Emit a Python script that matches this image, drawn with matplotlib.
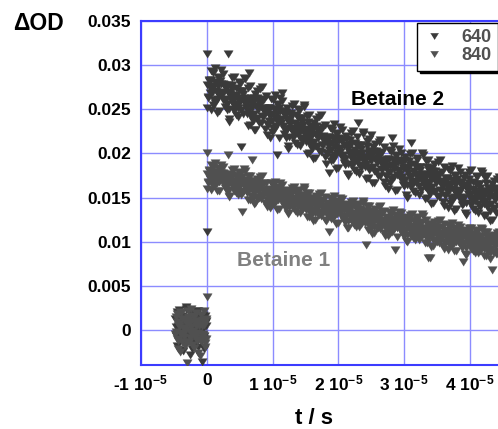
import numpy as np
import matplotlib
matplotlib.use("Agg")
import matplotlib.pyplot as plt

# ---------------- data (mOD vs microseconds) ----------------
# three interleaved sample sets per trace, step 0.2 us each
dt_us = 0.2
post_t0_even = 0.0
post_t0_odd = 0.1
post_t0_mid = 0.05
pre_t0_even = -4.8
pre_t0_odd = -4.7
pre_t0_mid = -4.75

betaine2_post_even = [
    31.3, 26.4, 28.3, 24.9, 27.5, 29.1, 25.7, 28.0, 24.6, 28.6, 27.0, 29.4, 26.1, 27.8, 25.3,
    24.9, 31.3, 23.6, 27.0, 27.7, 25.6, 28.7, 24.3, 26.3, 25.2, 27.9, 20.7, 27.1, 25.8, 28.4,
    25.6, 23.1, 29.1, 27.6, 24.4, 23.7, 26.3, 22.7, 27.1, 25.2, 23.5, 26.0, 27.5, 24.1, 24.7,
    26.5, 23.3, 25.2, 21.8, 24.4, 26.0, 22.6, 24.9, 19.8, 25.5, 23.9, 26.3, 26.8, 24.7, 22.2,
    21.8, 25.1, 20.5, 23.9, 24.6, 22.5, 25.6, 21.2, 23.2, 22.1, 24.8, 20.8, 24.0, 22.7, 25.3,
    22.4, 19.9, 23.6, 24.4, 21.2, 20.5, 23.1, 19.5, 23.9, 22.0, 20.3, 22.8, 24.3, 20.9, 21.5,
    23.2, 20.0, 21.9, 17.8, 21.1, 22.7, 19.3, 21.6, 18.2, 22.2, 20.6, 23.0, 19.7, 21.4, 18.9,
    18.7, 22.0, 17.4, 20.8, 21.5, 19.4, 22.5, 18.1, 20.1, 19.0, 23.5, 17.7, 20.9, 19.6, 22.2,
    19.6, 17.1, 20.8, 21.6, 18.4, 22.1, 20.3, 16.7, 21.1, 19.2, 17.5, 20.0, 21.5, 18.1, 18.7,
    20.7, 17.5, 19.4, 16.0, 18.6, 20.2, 21.8, 19.1, 15.7, 19.7, 18.1, 20.5, 17.2, 18.9, 16.4,
    16.3, 19.6, 15.0, 18.4, 19.1, 21.2, 20.1, 15.7, 17.7, 16.6, 19.3, 15.3, 18.5, 17.2, 19.8,
    17.3, 14.8, 18.5, 19.3, 16.1, 15.4, 18.0, 14.4, 18.8, 16.9, 15.2, 17.7, 19.2, 15.8, 16.4,
    18.5, 15.3, 17.2, 13.8, 16.4, 18.0, 14.6, 16.9, 13.5, 17.5, 15.9, 18.3, 15.0, 16.7, 14.2,
    14.3, 17.6, 13.0, 16.4, 17.1, 15.0, 18.1, 13.7, 15.7, 14.6, 17.3, 13.3, 16.5, 15.2, 17.8,
    15.4, 12.9, 16.6, 17.4, 14.2, 13.5, 16.1, 12.5, 16.9, 15.0, 13.3, 15.8, 17.3, 13.9, 14.5,
]
betaine2_post_odd = [
    25.2, 28.2, 26.8, 29.3, 25.5, 27.6, 29.7, 26.2, 28.7, 24.8, 27.9, 26.6, 29.0, 25.9, 27.4,
    27.8, 23.9, 26.7, 26.0, 28.5, 24.8, 25.4, 27.4, 24.1, 28.1, 25.8, 27.1, 24.5, 28.6, 25.2,
    24.5, 27.4, 23.2, 26.3, 25.1, 22.6, 26.7, 25.4, 23.9, 25.9, 27.3, 23.4, 24.9, 26.2, 22.8,
    22.1, 25.1, 23.7, 26.2, 22.4, 24.5, 26.6, 23.1, 25.6, 21.7, 24.8, 23.5, 25.9, 22.8, 24.3,
    24.7, 20.8, 23.6, 22.9, 25.4, 21.7, 22.3, 24.3, 21.0, 25.0, 22.7, 24.0, 21.4, 25.5, 22.1,
    21.3, 24.2, 20.0, 23.1, 21.9, 19.4, 23.5, 22.2, 20.7, 22.7, 24.1, 20.2, 21.7, 23.0, 19.6,
    18.8, 21.8, 20.4, 22.9, 19.1, 21.2, 23.3, 19.8, 22.3, 18.4, 21.5, 20.2, 22.6, 19.5, 21.0,
    21.6, 17.7, 20.5, 19.8, 22.3, 18.6, 19.2, 21.2, 17.9, 21.9, 19.6, 20.9, 18.3, 22.4, 19.0,
    18.5, 21.4, 17.2, 20.3, 19.1, 16.6, 20.7, 19.4, 17.9, 19.9, 21.3, 17.4, 18.9, 20.2, 16.8,
    16.3, 19.3, 17.9, 20.4, 16.6, 18.7, 20.8, 17.3, 19.8, 15.9, 19.0, 17.7, 20.1, 17.0, 18.5,
    19.2, 15.3, 18.1, 17.4, 19.9, 16.2, 16.8, 18.8, 15.5, 19.5, 17.2, 18.5, 15.9, 20.0, 16.6,
    16.2, 19.1, 14.9, 18.0, 16.8, 14.3, 18.4, 17.1, 15.6, 17.6, 19.0, 15.1, 16.6, 17.9, 14.5,
    14.1, 17.1, 15.7, 18.2, 14.4, 16.5, 18.6, 15.1, 17.6, 13.7, 16.8, 15.5, 17.9, 14.8, 16.3,
    17.2, 13.3, 16.1, 15.4, 17.9, 14.2, 14.8, 16.8, 13.5, 17.5, 15.2, 16.5, 13.9, 18.0, 14.6,
    14.3, 17.2, 13.0, 16.1, 14.9, 12.4, 16.5, 15.2, 13.7, 15.7, 17.1, 13.2, 14.7, 16.0, 12.6,
]
betaine2_post_mid = [
    27.8, 26.3, 27.4, 28.3, 26.8, 26.0, 28.1, 27.1, 27.6, 26.5, 28.2, 26.9, 27.9, 26.2, 27.3,
    25.6, 26.9, 25.0, 26.4, 27.3, 25.9, 25.3, 26.6, 25.5, 27.1, 26.1, 24.9, 26.7, 26.3, 25.7,
    25.3, 24.8, 26.0, 24.1, 25.6, 25.8, 24.5, 24.0, 26.3, 24.9, 25.5, 25.9, 24.2, 25.2, 24.6,
    24.7, 23.2, 24.3, 25.2, 23.7, 22.9, 25.0, 24.0, 24.5, 23.4, 25.1, 23.8, 24.8, 23.1, 24.2,
    22.5, 23.8, 21.9, 23.3, 24.2, 22.8, 22.2, 23.5, 22.4, 24.0, 23.0, 21.8, 23.6, 23.2, 22.6,
    22.1, 21.6, 22.8, 20.9, 22.4, 22.6, 21.3, 20.8, 23.1, 21.7, 22.3, 22.7, 21.0, 22.0, 21.4,
    21.4, 19.9, 21.0, 21.9, 20.4, 19.6, 21.7, 20.7, 21.2, 20.1, 21.8, 20.5, 21.5, 19.8, 20.9,
    19.4, 20.7, 18.8, 20.2, 21.1, 19.7, 19.1, 20.4, 19.3, 20.9, 19.9, 18.7, 20.5, 20.1, 19.5,
    19.3, 18.8, 20.0, 18.1, 19.6, 19.8, 18.5, 18.0, 20.3, 18.9, 19.5, 19.9, 18.2, 19.2, 18.6,
    18.9, 17.4, 18.5, 19.4, 17.9, 17.1, 19.2, 18.2, 18.7, 17.6, 19.3, 18.0, 19.0, 17.3, 18.4,
    17.0, 18.3, 16.4, 17.8, 18.7, 17.3, 16.7, 18.0, 16.9, 18.5, 17.5, 16.3, 18.1, 17.7, 17.1,
    17.0, 16.5, 17.7, 15.8, 17.3, 17.5, 16.2, 15.7, 18.0, 16.6, 17.2, 17.6, 15.9, 16.9, 16.3,
    16.7, 15.2, 16.3, 17.2, 15.7, 14.9, 17.0, 16.0, 16.5, 15.4, 17.1, 15.8, 16.8, 15.1, 16.2,
    15.0, 16.3, 14.4, 15.8, 16.7, 15.3, 14.7, 16.0, 14.9, 16.5, 15.5, 14.3, 16.1, 15.7, 15.1,
    15.1, 14.6, 15.8, 13.9, 15.4, 15.6, 14.3, 13.8, 16.1, 14.7, 15.3, 15.7, 14.0, 15.0, 14.4,
]

betaine1_post_even = [
    20.0, 16.8, 18.0, 15.9, 17.5, 18.5, 16.4, 17.8, 15.7, 18.2, 17.2, 18.7, 16.6, 17.7, 16.1,
    15.8, 19.8, 15.1, 17.2, 17.6, 16.3, 18.2, 15.5, 16.7, 16.0, 17.7, 15.3, 13.4, 16.4, 18.0,
    16.2, 14.7, 16.9, 17.4, 19.3, 15.0, 16.7, 14.4, 17.1, 15.9, 14.9, 16.5, 17.4, 15.3, 15.6,
    16.7, 14.7, 15.9, 13.8, 15.4, 16.4, 14.3, 15.7, 13.6, 16.1, 15.1, 16.6, 14.5, 15.6, 14.0,
    13.8, 15.9, 13.1, 15.2, 15.6, 14.3, 16.2, 13.5, 14.7, 14.0, 15.7, 13.3, 15.2, 14.4, 16.0,
    14.3, 12.8, 15.0, 15.5, 13.6, 13.1, 14.8, 12.5, 15.2, 14.0, 13.0, 14.6, 15.5, 13.4, 13.7,
    15.1, 13.1, 14.3, 11.1, 13.8, 14.8, 12.7, 14.1, 12.0, 14.5, 13.5, 15.0, 12.9, 14.0, 12.4,
    12.2, 14.3, 11.5, 13.6, 14.0, 12.7, 14.6, 11.9, 13.1, 12.4, 14.1, 11.7, 13.6, 12.8, 14.4,
    12.8, 9.6, 13.5, 14.0, 12.1, 11.6, 13.3, 11.0, 13.7, 12.5, 11.5, 13.1, 14.0, 11.9, 12.2,
    13.5, 11.5, 12.7, 10.6, 12.2, 13.2, 11.1, 12.5, 9.1, 12.9, 11.9, 13.4, 11.3, 12.4, 10.8,
    10.7, 12.8, 10.0, 12.1, 12.5, 11.2, 13.1, 10.4, 11.6, 10.9, 12.6, 10.2, 12.1, 11.3, 12.9,
    11.3, 9.8, 12.0, 8.2, 10.6, 8.1, 11.8, 9.5, 12.2, 11.0, 10.0, 11.6, 12.5, 10.4, 10.7,
    12.0, 10.0, 11.2, 9.1, 10.7, 11.7, 9.6, 11.0, 8.9, 11.4, 10.4, 11.9, 9.8, 10.9, 9.3,
    7.7, 11.3, 8.5, 10.6, 11.0, 9.7, 11.6, 8.9, 10.1, 9.4, 11.1, 8.7, 10.6, 9.8, 11.4,
    9.9, 8.4, 10.6, 11.1, 9.2, 8.7, 10.4, 6.8, 10.8, 9.6, 8.6, 10.2, 11.1, 9.0, 9.3,
]
betaine1_post_odd = [
    16.0, 18.1, 17.1, 18.7, 16.3, 17.6, 18.9, 16.7, 18.3, 15.8, 17.8, 16.9, 18.5, 16.5, 17.4,
    17.7, 15.2, 17.0, 16.5, 18.1, 15.8, 16.2, 17.5, 15.3, 17.9, 16.4, 17.3, 15.6, 18.2, 16.0,
    15.5, 17.4, 14.7, 16.7, 15.9, 14.3, 16.9, 16.1, 15.1, 16.4, 17.3, 14.8, 15.8, 16.6, 14.4,
    13.9, 16.0, 15.0, 16.6, 14.2, 15.5, 16.8, 14.6, 16.2, 13.7, 15.7, 14.8, 16.4, 14.4, 15.3,
    15.7, 13.2, 15.0, 14.5, 16.1, 13.8, 14.2, 15.5, 13.3, 15.9, 14.4, 15.3, 13.6, 16.2, 14.0,
    13.6, 15.5, 12.8, 14.8, 14.0, 12.4, 15.0, 14.2, 13.2, 14.5, 15.4, 12.9, 13.9, 14.7, 12.5,
    12.3, 14.4, 13.4, 15.0, 12.6, 13.9, 15.2, 13.0, 14.6, 12.1, 14.1, 13.2, 14.8, 12.8, 13.7,
    14.1, 11.6, 13.4, 12.9, 14.5, 12.2, 12.6, 13.9, 11.7, 14.3, 12.8, 13.7, 12.0, 14.6, 12.4,
    12.1, 14.0, 11.3, 13.3, 12.5, 10.9, 13.5, 12.7, 11.7, 13.0, 13.9, 11.4, 12.4, 13.2, 11.0,
    10.7, 12.8, 11.8, 13.4, 11.0, 12.3, 13.6, 11.4, 13.0, 10.5, 12.5, 11.6, 13.2, 11.2, 12.1,
    12.6, 10.1, 11.9, 11.4, 13.0, 10.7, 11.1, 12.4, 10.2, 12.8, 11.3, 12.2, 10.5, 13.1, 10.9,
    10.6, 12.5, 9.8, 11.8, 11.0, 9.4, 12.0, 11.2, 10.2, 11.5, 12.4, 9.9, 10.9, 11.7, 9.5,
    9.2, 11.3, 10.3, 11.9, 9.5, 10.8, 12.1, 9.9, 11.5, 9.0, 11.0, 10.1, 11.7, 9.7, 10.6,
    11.1, 8.6, 10.4, 9.9, 11.5, 9.2, 9.6, 10.9, 8.7, 11.3, 9.8, 10.7, 9.0, 11.6, 9.4,
    9.2, 11.1, 8.4, 10.4, 9.6, 8.0, 10.6, 9.8, 8.8, 10.1, 11.0, 8.5, 9.5, 10.3, 8.1,
]
betaine1_post_mid = [
    17.7, 16.7, 17.4, 18.0, 17.0, 16.5, 17.9, 17.2, 17.6, 16.8, 18.1, 17.1, 17.8, 16.6, 17.3,
    16.3, 17.1, 15.9, 16.8, 17.4, 16.5, 16.1, 16.9, 16.2, 17.3, 16.6, 15.8, 17.0, 16.7, 16.4,
    16.0, 15.7, 16.5, 15.2, 16.2, 16.4, 15.5, 15.1, 16.7, 15.8, 16.1, 16.5, 15.3, 15.9, 15.6,
    15.6, 14.6, 15.3, 15.9, 14.9, 14.4, 15.8, 15.1, 15.5, 14.7, 16.0, 15.0, 15.7, 14.5, 15.2,
    14.3, 15.1, 13.9, 14.8, 15.4, 14.5, 14.1, 14.9, 14.2, 15.3, 14.6, 13.8, 15.0, 14.7, 14.4,
    14.1, 13.8, 14.6, 13.3, 14.3, 14.5, 13.6, 13.2, 14.8, 13.9, 14.2, 14.6, 13.4, 14.0, 13.7,
    14.0, 13.0, 13.7, 14.3, 13.3, 12.8, 14.2, 13.5, 13.9, 13.1, 14.4, 13.4, 14.1, 12.9, 13.6,
    12.7, 13.5, 12.3, 13.2, 13.8, 12.9, 12.5, 13.3, 12.6, 13.7, 13.0, 12.2, 13.4, 13.1, 12.8,
    12.6, 12.3, 13.1, 11.8, 12.8, 13.0, 12.1, 11.7, 13.3, 12.4, 12.7, 13.1, 11.9, 12.5, 12.2,
    12.4, 11.4, 12.1, 12.7, 11.7, 11.2, 12.6, 11.9, 12.3, 11.5, 12.8, 11.8, 12.5, 11.3, 12.0,
    11.2, 12.0, 10.8, 11.7, 12.3, 11.4, 11.0, 11.8, 11.1, 12.2, 11.5, 10.7, 11.9, 11.6, 11.3,
    11.1, 10.8, 11.6, 10.3, 11.3, 11.5, 10.6, 10.2, 11.8, 10.9, 11.2, 11.6, 10.4, 11.0, 10.7,
    10.9, 9.9, 10.6, 11.2, 10.2, 9.7, 11.1, 10.4, 10.8, 10.0, 11.3, 10.3, 11.0, 9.8, 10.5,
    9.7, 10.5, 9.3, 10.2, 10.8, 9.9, 9.5, 10.3, 9.6, 10.7, 10.0, 9.2, 10.4, 10.1, 9.8,
    9.7, 9.4, 10.2, 8.9, 9.9, 10.1, 9.2, 8.8, 10.4, 9.5, 9.8, 10.2, 9.0, 9.6, 9.3,
]

betaine2_pre_even = [1.2, -1.8, 0.4, 2.3, -0.9, 1.6, -2.4, 0.1, 2.6, -1.2, 0.9, -0.3, 1.9,
                     -2.1, 0.6, 1.4, -1.5, 2.2, -0.6, 0.3, -3.6, 1.7, -1.0, 0.8, 11.1]
betaine2_pre_odd = [-0.7, 2.0, -1.3, 0.9, -2.3, 1.4, 0.3, -1.6, 2.4, -0.4, 1.0, -2.8,
                    0.6, 1.8, -1.1, 0.2, 2.1, -1.9, 1.3, -0.2, 0.7, -2.2, 1.6, 0.4]
betaine2_pre_mid = [0.3, -0.8, 1.1, -0.2, 0.6, -1.3, 0.9, -0.5, 0.1, 1.4, -1.0, 0.4,
                    -0.1, 0.8, -1.5, 0.5, -0.6, 1.2, -0.3, 0.7, -1.1, 0.2, -0.7, 1.0]
betaine1_pre_even = [-0.5, 1.8, -2.2, 0.7, 2.0, -1.4, 0.2, -0.8, 1.3, -3.7, 1.5, -0.2, 2.4,
                     -1.7, -0.4, 0.9, 1.9, -2.6, 0.5, -1.1, 1.1, -0.7, 2.1, -1.9, 3.7]
betaine1_pre_odd = [1.5, -1.0, 0.5, -2.5, 1.9, -0.3, 1.1, -1.8, 0.0, 2.2, -1.4, 0.8,
                    -0.6, 1.6, -2.0, 0.4, -1.2, 1.0, -3.0, 1.7, -0.9, 0.6, -1.5, 1.2]
betaine1_pre_mid = [-0.2, 0.9, -1.2, 0.5, -0.6, 1.3, -0.4, 0.2, -1.4, 0.7, 1.1, -0.9,
                    0.3, -0.1, 1.5, -0.8, 0.6, -0.3, 1.0, -1.3, 0.4, -0.5, 0.8, -1.0]

series_labels = ["640", "840"]
xtick_values = [-1e-5, 0, 1e-5, 2e-5, 3e-5, 4e-5]
xtick_labels = ["-1 10$^{-5}$", "0", "1 10$^{-5}$", "2 10$^{-5}$", "3 10$^{-5}$", "4 10$^{-5}$"]
ytick_values = [0, 0.005, 0.01, 0.015, 0.02, 0.025, 0.03, 0.035]
ytick_labels = ["0", "0.005", "0.01", "0.015", "0.02", "0.025", "0.03", "0.035"]

# ---------------- build arrays ----------------
def times(n, t0):
    return (t0 + dt_us * np.arange(n)) * 1e-6

def trace(parts):
    t = np.concatenate([times(len(v), t0) for v, t0 in parts])
    y = np.concatenate([np.asarray(v, float) for v, _ in parts]) * 1e-3
    return t, y

b2_t, b2_y = trace([(betaine2_pre_even, pre_t0_even), (betaine2_pre_odd, pre_t0_odd),
                    (betaine2_pre_mid, pre_t0_mid),
                    (betaine2_post_even, post_t0_even), (betaine2_post_odd, post_t0_odd),
                    (betaine2_post_mid, post_t0_mid)])
b1_t, b1_y = trace([(betaine1_pre_even, pre_t0_even), (betaine1_pre_odd, pre_t0_odd),
                    (betaine1_pre_mid, pre_t0_mid),
                    (betaine1_post_even, post_t0_even), (betaine1_post_odd, post_t0_odd),
                    (betaine1_post_mid, post_t0_mid)])

# ---------------- style ----------------
plt.rcParams["font.family"] = ["Liberation Sans", "DejaVu Sans"]
plt.rcParams["font.weight"] = "bold"
plt.rcParams["mathtext.default"] = "regular"

W, H = 498, 429
fig = plt.figure(figsize=(W / 100, H / 100), dpi=100)
ax = fig.add_axes([141 / W, 64 / H, (503 - 141) / W, (365 - 21) / H])

tri_down = [(-1.0, 0.8), (1.0, 0.8), (0.0, -0.8)]
c2 = "#3a3a3a"
c1 = "#505050"
ms = 6.7
ax.plot(b2_t, b2_y, linestyle="none", marker=tri_down, ms=ms, color=c2, mec=c2, mew=0.3,
        label=series_labels[0], zorder=3)
ax.plot(b1_t, b1_y, linestyle="none", marker=tri_down, ms=ms, color=c1, mec=c1, mew=0.3,
        label=series_labels[1], zorder=3)

ax.set_xlim(-1e-5, 4.502e-5)
ax.set_ylim(-0.003964, 0.035)

ax.set_xticks(xtick_values)
ax.set_xticklabels(xtick_labels)
ax.set_yticks(ytick_values)
ax.set_yticklabels(ytick_labels)
ax.tick_params(axis="both", length=0, labelsize=12.5, colors="black")
ax.tick_params(axis="y", pad=7)
ax.tick_params(axis="x", pad=6)
for lab in ax.get_xticklabels() + ax.get_yticklabels():
    lab.set_fontweight("bold")

ax.grid(True, color="#8c8cff", linewidth=1.0, zorder=0)
ax.set_axisbelow(True)
for s in ["left", "top", "bottom"]:
    ax.spines[s].set_color("#3c3cff")
    ax.spines[s].set_linewidth(1.5)
ax.spines["right"].set_visible(False)

ax.text(2.9e-5, 0.0261, "Betaine 2", fontsize=15, fontweight="bold", color="black",
        ha="center", va="center", zorder=4)
ax.text(1.17e-5, 0.0079, "Betaine 1", fontsize=15, fontweight="bold", color="#808080",
        ha="center", va="center", zorder=4)

fig.text(38 / W, 1 - 24 / H, "ΔOD", fontsize=16.5, fontweight="bold", ha="center", va="center")
fig.text(314 / W, 1 - 424 / H, "t / s", fontsize=16, fontweight="bold", ha="center", va="baseline")

leg = ax.legend(loc="upper left", bbox_to_anchor=(417 / W, 1 - 23 / H), bbox_transform=fig.transFigure,
                borderaxespad=0, frameon=True, fancybox=False, shadow={"color": "black", "alpha": 1},
                edgecolor="black", framealpha=1, fontsize=13, handlelength=1.2, handletextpad=0.9,
                borderpad=0.35, labelspacing=0.05, markerscale=0.85)
leg.get_frame().set_linewidth(1.0)
for txt in leg.get_texts():
    txt.set_color("#505050")
    txt.set_fontweight("bold")
leg.set_zorder(5)

fig.savefig("out.png", dpi=100)
